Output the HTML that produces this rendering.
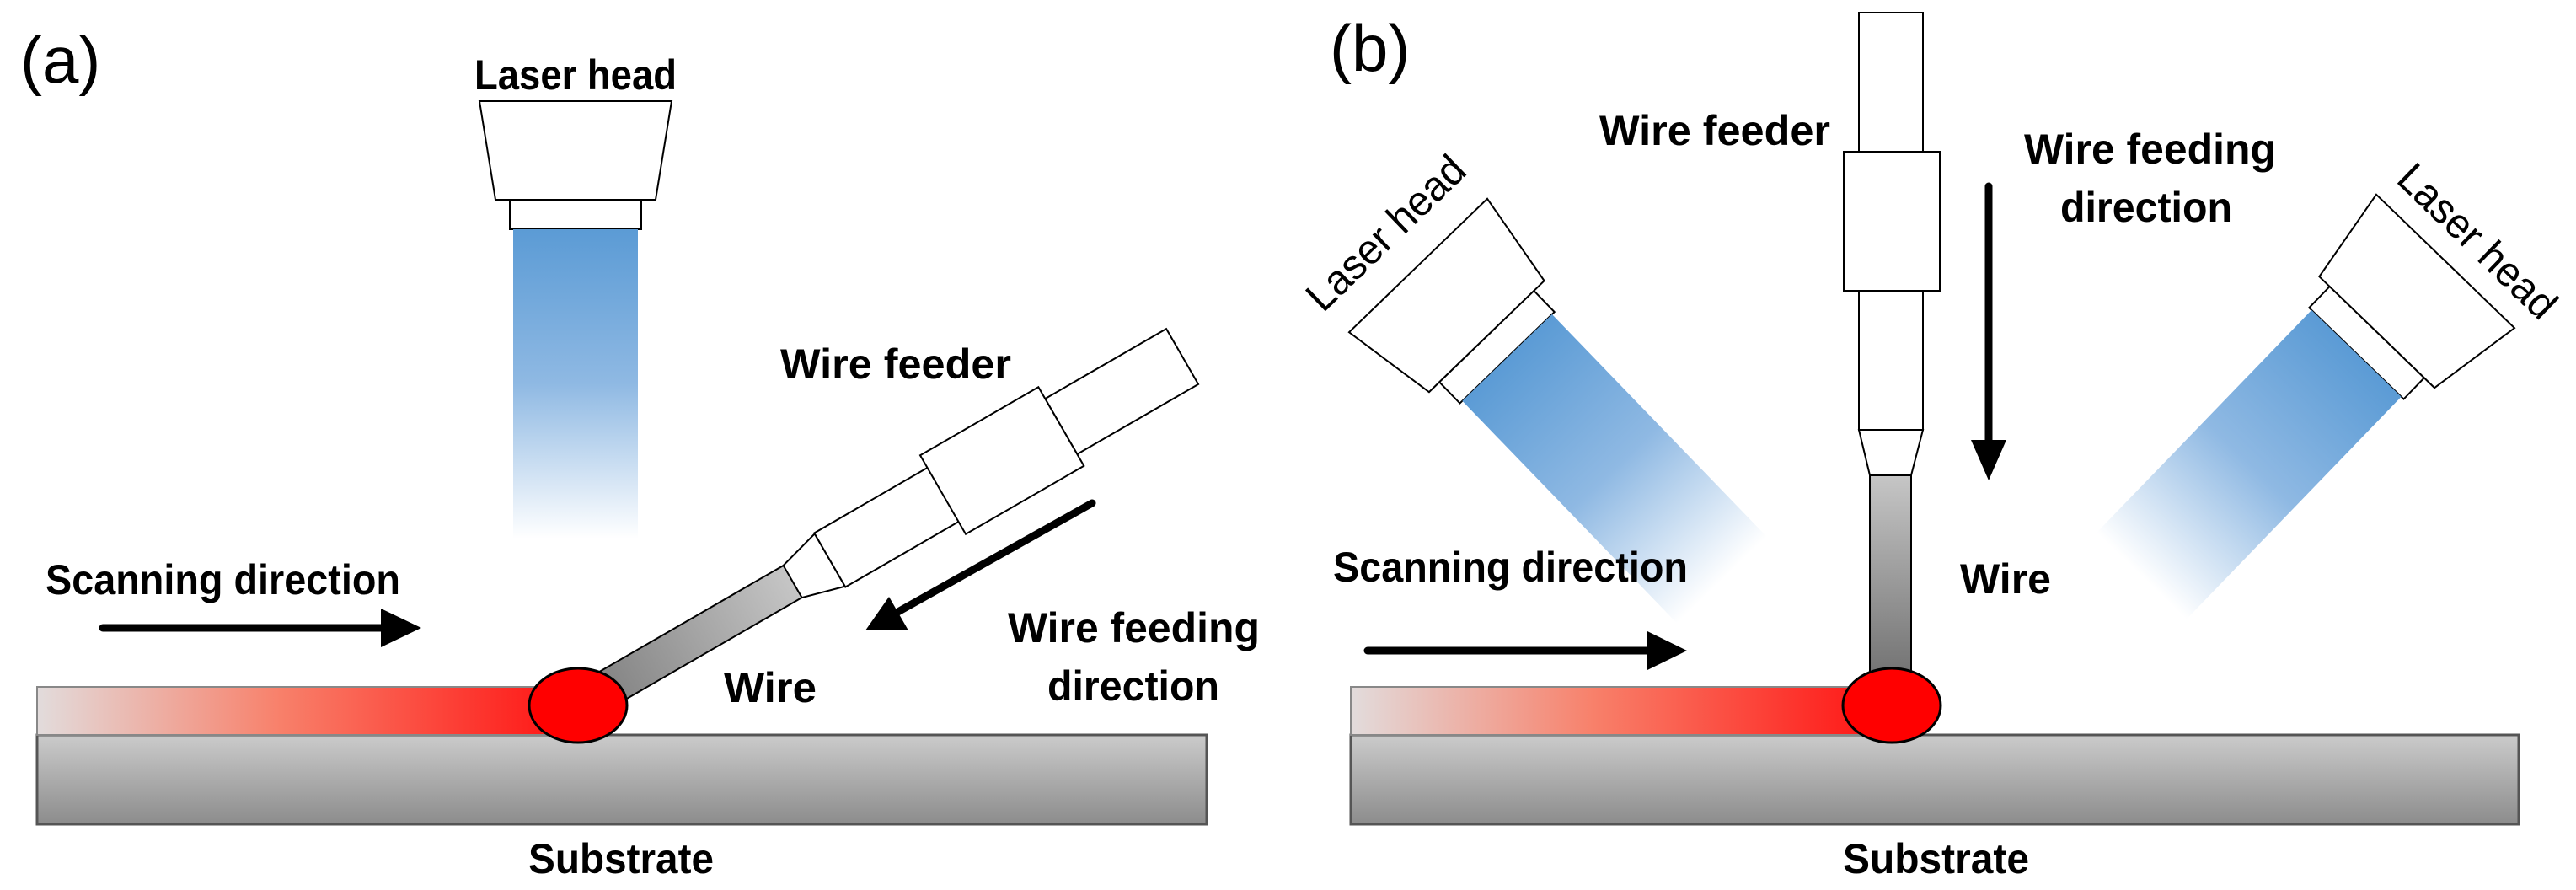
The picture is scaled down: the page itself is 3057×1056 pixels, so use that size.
<!DOCTYPE html>
<html><head><meta charset="utf-8"><style>
html,body{margin:0;padding:0;background:#fff;}
svg{display:block;}
text{font-family:"Liberation Sans Narrow","Liberation Sans",sans-serif;font-weight:bold;fill:#000;}
</style></head><body>
<svg width="3057" height="1056" viewBox="0 0 3057 1056" xmlns="http://www.w3.org/2000/svg">
<defs>
<linearGradient id="beam" x1="0" y1="0" x2="0" y2="1">
<stop offset="0" stop-color="#5b9bd5"/><stop offset="0.5" stop-color="#8fb9e3"/><stop offset="1" stop-color="#ffffff"/>
</linearGradient>
<linearGradient id="red" x1="0" y1="0" x2="1" y2="0">
<stop offset="0" stop-color="#e2dcdc"/><stop offset="0.45" stop-color="#f8806a"/><stop offset="1" stop-color="#ff1010"/>
</linearGradient>
<linearGradient id="sub" x1="0" y1="0" x2="0" y2="1">
<stop offset="0" stop-color="#cbcbcb"/><stop offset="1" stop-color="#8c8c8c"/>
</linearGradient>
<linearGradient id="wireA" x1="1" y1="0" x2="0" y2="0">
<stop offset="0" stop-color="#c6c6c6"/><stop offset="1" stop-color="#7a7a7a"/>
</linearGradient>
<linearGradient id="wireB" x1="0" y1="0" x2="0" y2="1">
<stop offset="0" stop-color="#c6c6c6"/><stop offset="1" stop-color="#727272"/>
</linearGradient>
<g id="head">
<polygon points="-114,0 114,0 95,117 -95,117" fill="#fff" stroke="#000" stroke-width="2"/>
<rect x="-78" y="117" width="156" height="35" fill="#fff" stroke="#000" stroke-width="2"/>
<rect x="-74" y="152" width="148" height="367" fill="url(#beam)"/>
</g>
</defs>

<!-- Panel A -->
<text x="24" y="98" font-size="78" style="font-weight:normal">(a)</text>
<text x="563" y="106" font-size="50" textLength="240" lengthAdjust="spacingAndGlyphs">Laser head</text>
<use href="#head" transform="translate(683,120)"/>

<text x="926" y="449" font-size="50" textLength="274" lengthAdjust="spacingAndGlyphs">Wire feeder</text>
<text x="54" y="705" font-size="50" textLength="421" lengthAdjust="spacingAndGlyphs">Scanning direction</text>
<text x="1196" y="762" font-size="50" textLength="299" lengthAdjust="spacingAndGlyphs">Wire feeding</text>
<text x="1243" y="831" font-size="50" textLength="204" lengthAdjust="spacingAndGlyphs">direction</text>
<text x="859" y="833" font-size="50" textLength="110" lengthAdjust="spacingAndGlyphs">Wire</text>
<text x="627" y="1036" font-size="50" textLength="220" lengthAdjust="spacingAndGlyphs">Substrate</text>

<line x1="122" y1="745" x2="460" y2="745" stroke="#000" stroke-width="9" stroke-linecap="round"/>
<polygon points="500,745 452,722 452,768" fill="#000"/>
<line x1="1296" y1="597" x2="1062" y2="728" stroke="#000" stroke-width="9" stroke-linecap="round"/>
<polygon points="1027,748 1055,708 1078,748" fill="#000"/>

<g transform="translate(686,837) rotate(-30)">
<rect x="0" y="-22" width="296" height="44" fill="url(#wireA)" stroke="#000" stroke-width="2"/>
<polygon points="294,-22 345,-36 345,36 294,22" fill="#fff" stroke="#000" stroke-width="2"/>
<rect x="345" y="-37" width="157" height="74" fill="#fff" stroke="#000" stroke-width="2"/>
<rect x="662" y="-38" width="166" height="76" fill="#fff" stroke="#000" stroke-width="2"/>
<rect x="500" y="-54" width="162" height="108" fill="#fff" stroke="#000" stroke-width="2"/>
</g>

<rect x="44" y="872" width="1388" height="106" fill="url(#sub)" stroke="#555" stroke-width="3"/>
<rect x="44" y="815" width="642" height="57" fill="url(#red)" stroke="#888" stroke-width="2"/>
<ellipse cx="686" cy="837" rx="58" ry="44" fill="#ff0000" stroke="#000" stroke-width="3"/>

<!-- Panel B -->
<text x="1578" y="84" font-size="78" style="font-weight:normal">(b)</text>
<use href="#head" transform="translate(1683,315) rotate(-44)"/>
<use href="#head" transform="translate(2902,310) rotate(44)"/>
<text font-size="50" textLength="240" lengthAdjust="spacingAndGlyphs" transform="translate(1570,372) rotate(-44)" style="font-weight:normal">Laser head</text>
<text font-size="50" textLength="240" lengthAdjust="spacingAndGlyphs" transform="translate(2842,215) rotate(44)" style="font-weight:normal">Laser head</text>

<text x="1898" y="172" font-size="50" textLength="274" lengthAdjust="spacingAndGlyphs">Wire feeder</text>
<text x="2402" y="194" font-size="50" textLength="299" lengthAdjust="spacingAndGlyphs">Wire feeding</text>
<text x="2445" y="263" font-size="50" textLength="204" lengthAdjust="spacingAndGlyphs">direction</text>
<text x="2326" y="704" font-size="50" textLength="108" lengthAdjust="spacingAndGlyphs">Wire</text>
<text x="1582" y="690" font-size="50" textLength="421" lengthAdjust="spacingAndGlyphs">Scanning direction</text>
<text x="2187" y="1036" font-size="50" textLength="221" lengthAdjust="spacingAndGlyphs">Substrate</text>

<rect x="2206" y="15" width="76" height="165" fill="#fff" stroke="#000" stroke-width="2"/>
<rect x="2206" y="345" width="76" height="165" fill="#fff" stroke="#000" stroke-width="2"/>
<rect x="2188" y="180" width="114" height="165" fill="#fff" stroke="#000" stroke-width="2"/>
<polygon points="2206,510 2282,510 2268,564 2219,564" fill="#fff" stroke="#000" stroke-width="2"/>
<rect x="2219" y="564" width="49" height="240" fill="url(#wireB)" stroke="#000" stroke-width="2"/>

<line x1="2360" y1="221" x2="2360" y2="530" stroke="#000" stroke-width="9" stroke-linecap="round"/>
<polygon points="2360,570 2339,522 2381,522" fill="#000"/>
<line x1="1623" y1="772" x2="1965" y2="772" stroke="#000" stroke-width="9" stroke-linecap="round"/>
<polygon points="2002,772 1955,749 1955,795" fill="#000"/>

<rect x="1603" y="872" width="1386" height="106" fill="url(#sub)" stroke="#555" stroke-width="3"/>
<rect x="1603" y="815" width="642" height="57" fill="url(#red)" stroke="#888" stroke-width="2"/>
<ellipse cx="2245" cy="837" rx="58" ry="44" fill="#ff0000" stroke="#000" stroke-width="3"/>
</svg>
</body></html>
